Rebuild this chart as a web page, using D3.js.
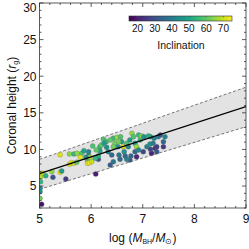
<!DOCTYPE html>
<html>
<head>
<meta charset="utf-8">
<script src="https://cdn.jsdelivr.net/npm/d3@7"></script>
<style>
  html, body { margin: 0; padding: 0; background: #fff; }
  svg { display: block; font-family: 'Liberation Sans', Arial, sans-serif; }
</style>
</head>
<body>
<div id="chart"></div>
<script>
// black hole mass, coronal height, inclination
const logMass = [5.02, 5.02, 5.02, 5.01, 5.01, 5.01, 5.04, 5.06, 5.12, 5.24, 5.26, 5.40, 5.40, 5.43, 5.51, 5.58, 5.67, 5.73, 5.58, 5.62,
  5.66, 5.72, 5.82, 5.79, 5.86, 5.95, 5.95, 5.93, 5.93, 5.97, 6.01, 5.98, 6.09, 6.14, 6.14, 6.08, 6.03, 6.17, 6.20, 6.24,
  6.29, 6.30, 6.33, 6.37, 6.40, 6.46, 6.43, 6.50, 6.52, 6.54, 6.56, 6.57, 6.59, 6.62, 6.64, 6.69, 6.75, 6.79, 6.82, 6.85,
  6.88, 6.92, 6.95, 6.98, 6.85, 6.88, 6.92, 6.75, 6.69, 6.66, 6.77, 7.01, 7.08, 7.14, 7.15, 7.22, 7.30, 7.34, 7.40, 7.43,
  7.17, 7.24, 7.27, 7.40, 7.27, 7.02, 7.11, 6.25, 6.37, 6.53, 6.72, 6.43, 6.17, 6.10, 7.20, 7.15, 6.43, 5.90]
const height = [6.64, 6.28, 5.60, 4.69, 4.23, 3.32, 2.50, 6.74, 6.42, 6.96, 6.19, 9.29, 6.87, 7.05, 5.96, 9.38, 9.38, 9.47, 7.97, 8.19,
  8.10, 8.24, 9.47, 8.92, 9.83, 9.70, 9.15, 8.47, 8.10, 8.19, 8.33, 8.92, 6.64, 8.65, 9.10, 8.79, 10.47, 10.38, 10.61, 11.38,
  11.06, 10.29, 9.70, 7.87, 9.24, 10.83, 11.52, 11.65, 10.38, 9.24, 8.65, 11.74, 11.06, 10.38, 9.70, 10.83, 11.29, 12.20, 11.74, 10.83,
  10.38, 11.97, 11.29, 11.84, 9.70, 9.01, 9.92, 8.56, 8.65, 9.10, 9.10, 9.70, 10.38, 10.74, 11.74, 11.52, 11.74, 11.97, 11.06, 11.74,
  9.47, 10.15, 9.70, 10.38, 10.38, 11.74, 11.84, 10.83, 11.29, 11.06, 10.38, 10.38, 9.83, 9.92, 10.83, 10.01, 8.33, 8.92]
const inclination = [72, 68, 55, 42, 45, 62, 18, 70, 52, 65, 30, 72, 73, 48, 25, 64, 55, 65, 72, 73,
  70, 60, 58, 72, 50, 42, 45, 58, 72, 74, 70, 68, 20, 30, 52, 55, 58, 55, 60, 58,
  55, 45, 42, 32, 35, 62, 55, 65, 45, 38, 35, 58, 48, 72, 45, 58, 48, 65, 58, 48,
  66, 55, 55, 65, 35, 22, 42, 32, 42, 35, 35, 28, 42, 45, 45, 42, 42, 30, 35, 42,
  22, 22, 32, 25, 25, 45, 52, 48, 60, 62, 42, 62, 50, 60, 40, 28, 38, 44]

// best fit and scatter band
const fitX = [5, 9]
const fitY = [6.7, 15.85]
const bandUpper = [8.65, 18.5]
const bandLower = [4.55, 13.1]

const xTicks = [5, 6, 7, 8, 9]
const yTicks = [5, 10, 15, 20, 25, 30]
const cbarTicks = [20, 30, 40, 50, 60, 70]

const width = 249, height_ = 249
const margin = { top: 3, right: 3, bottom: 41, left: 39.5 }

const svg = d3.select('#chart').append('svg')
  .attr('width', width)
  .attr('height', height_)

const x = d3.scaleLinear().domain([5, 9]).range([margin.left, width - margin.right])
const y = d3.scaleLinear().domain([2, 30]).range([height_ - margin.bottom, margin.top])
const color = d3.scaleSequential(d3.interpolateViridis).domain([15, 75])

const x0 = x.range()[0], x1 = x.range()[1]
const y0 = y.range()[0], y1 = y.range()[1]

svg.append('defs').append('clipPath').attr('id', 'clip')
  .append('rect').attr('x', x0).attr('y', y1).attr('width', x1 - x0).attr('height', y0 - y1)

const plot = svg.append('g').attr('clip-path', 'url(#clip)')

// band
const band = fitX.map((v, i) => ({ x: v, lo: bandLower[i], hi: bandUpper[i] }))
plot.append('path')
  .datum(band)
  .attr('fill', '#e3e3e3')
  .attr('d', d3.area().x(d => x(d.x)).y0(d => y(d.lo)).y1(d => y(d.hi)))

const line = d3.line().x(d => x(d[0])).y(d => y(d[1]))
;[bandUpper, bandLower].forEach(b => {
  plot.append('path')
    .datum(fitX.map((v, i) => [v, b[i]]))
    .attr('fill', 'none')
    .attr('stroke', '#555')
    .attr('stroke-width', 0.8)
    .attr('stroke-dasharray', '3,2')
    .attr('d', line)
})

// points
const points = logMass.map((m, i) => ({ m, h: height[i], inc: inclination[i] }))
plot.selectAll('circle')
  .data(points)
  .enter().append('circle')
    .attr('cx', d => x(d.m))
    .attr('cy', d => y(d.h))
    .attr('r', 2.5)
    .attr('fill', d => color(d.inc))
    .attr('stroke', '#666')
    .attr('stroke-width', 0.3)

plot.append('path')
  .datum(fitX.map((v, i) => [v, fitY[i]]))
  .attr('fill', 'none')
  .attr('stroke', '#000')
  .attr('stroke-width', 1.3)
  .attr('d', line)

// frame and ticks (inward on all sides)
const axes = svg.append('g').attr('stroke', '#333').attr('stroke-width', 0.8)
axes.append('rect')
  .attr('x', x0).attr('y', y1).attr('width', x1 - x0).attr('height', y0 - y1)
  .attr('fill', 'none')

const xMinor = d3.range(5, 9.001, 0.2)
const yMinor = d3.range(2, 30.001, 1)
xMinor.forEach(v => {
  const major = xTicks.some(t => Math.abs(t - v) < 1e-6)
  const len = major ? 4 : 2
  axes.append('line').attr('x1', x(v)).attr('x2', x(v)).attr('y1', y0).attr('y2', y0 - len)
  axes.append('line').attr('x1', x(v)).attr('x2', x(v)).attr('y1', y1).attr('y2', y1 + len)
})
yMinor.forEach(v => {
  const major = yTicks.includes(v)
  const len = major ? 4 : 2
  axes.append('line').attr('y1', y(v)).attr('y2', y(v)).attr('x1', x0).attr('x2', x0 + len)
  axes.append('line').attr('y1', y(v)).attr('y2', y(v)).attr('x1', x1).attr('x2', x1 - len)
})

svg.append('g').selectAll('text')
  .data(xTicks)
  .enter().append('text')
    .attr('x', d => x(d))
    .attr('y', y0 + 15)
    .attr('text-anchor', 'middle')
    .attr('font-size', 12)
    .attr('fill', '#111')
    .text(d => d)

// top label is pushed down so it stays inside the picture
svg.append('g').selectAll('text')
  .data(yTicks)
  .enter().append('text')
    .attr('x', x0 - 3)
    .attr('y', d => Math.max(y(d) + 4.3, 11.5))
    .attr('text-anchor', 'end')
    .attr('font-size', 12)
    .attr('fill', '#111')
    .text(d => d)

// axis titles
const xt = svg.append('text')
  .attr('x', (x0 + x1) / 2)
  .attr('y', 242)
  .attr('text-anchor', 'middle')
  .attr('font-size', 12)
  .attr('fill', '#111')
xt.append('tspan').text('log (')
xt.append('tspan').attr('font-style', 'italic').text('M')
xt.append('tspan').attr('font-size', 7).attr('dy', 2).text('BH')
xt.append('tspan').attr('dy', -2).text('/')
xt.append('tspan').attr('font-style', 'italic').text('M')
xt.append('tspan').attr('font-size', 8).attr('dy', 2).text('⊙')
xt.append('tspan').attr('dy', -2).text(')')

const yt = svg.append('text')
  .attr('transform', `translate(16,${(y0 + y1) / 2}) rotate(-90)`)
  .attr('text-anchor', 'middle')
  .attr('font-size', 12)
  .attr('fill', '#111')
yt.append('tspan').text('Coronal height (')
yt.append('tspan').attr('font-style', 'italic').text('r')
yt.append('tspan').attr('font-size', 7).attr('dy', 2).text('g')
yt.append('tspan').attr('dy', -2).text(')')

// colour bar
const cb = { x: 129, y: 16, w: 103, h: 5 }
const cx = d3.scaleLinear().domain([15, 75]).range([cb.x, cb.x + cb.w])
const grad = svg.select('defs').append('linearGradient').attr('id', 'viridis')
d3.range(0, 1.001, 0.05).forEach(t => {
  grad.append('stop').attr('offset', t).attr('stop-color', d3.interpolateViridis(t))
})
svg.append('rect')
  .attr('x', cb.x).attr('y', cb.y).attr('width', cb.w).attr('height', cb.h)
  .attr('fill', 'url(#viridis)')
  .attr('stroke', '#333').attr('stroke-width', 0.6)
svg.append('g').selectAll('line')
  .data(cbarTicks)
  .enter().append('line')
    .attr('x1', d => cx(d)).attr('x2', d => cx(d))
    .attr('y1', cb.y).attr('y2', cb.y + 1.5)
    .attr('stroke', '#555').attr('stroke-width', 0.6)
svg.append('g').selectAll('text')
  .data(cbarTicks)
  .enter().append('text')
    .attr('x', d => cx(d))
    .attr('y', cb.y + cb.h + 11)
    .attr('text-anchor', 'middle')
    .attr('font-size', 10)
    .attr('fill', '#111')
    .text(d => d)
svg.append('text')
  .attr('x', 181)
  .attr('y', 49)
  .attr('text-anchor', 'middle')
  .attr('font-size', 10.5)
  .attr('fill', '#111')
  .text('Inclination')
</script>
</body>
</html>
